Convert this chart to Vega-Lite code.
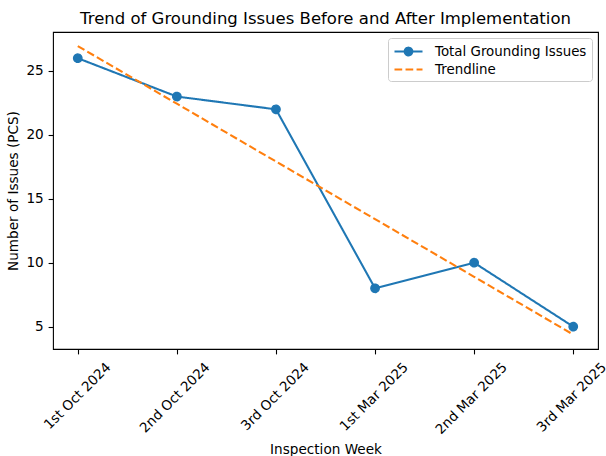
{
  "$schema": "https://vega.github.io/schema/vega-lite/v6.json",
  "width": 545,
  "height": 317,
  "autosize": {"type": "none"},
  "padding": {"left": 53, "top": 32, "right": 8, "bottom": 107},
  "background": "white",
  "config": {
    "font": "DejaVu Sans",
    "view": {"stroke": "black", "strokeWidth": 1.1},
    "axis": {
      "grid": false,
      "domain": false,
      "tickColor": "black",
      "tickWidth": 1.1,
      "tickSize": 4.9,
      "labelColor": "black",
      "labelFont": "DejaVu Sans",
      "labelFontSize": 13.6,
      "titleFont": "DejaVu Sans",
      "titleFontSize": 13.6,
      "titleFontWeight": "normal",
      "titleColor": "black"
    },
    "legend": {
      "title": null,
      "orient": "top-right",
      "offset": 6,
      "padding": 5,
      "fillColor": "rgba(255,255,255,0.8)",
      "strokeColor": "#cccccc",
      "cornerRadius": 3,
      "labelFont": "DejaVu Sans",
      "labelFontSize": 13.4,
      "labelColor": "black",
      "labelOffset": 25,
      "rowPadding": 1,
      "symbolType": "stroke",
      "symbolSize": 196,
      "symbolStrokeWidth": 2.08
    }
  },
  "title": {
    "text": "Trend of Grounding Issues Before and After Implementation",
    "font": "DejaVu Sans",
    "fontSize": 16.5,
    "fontWeight": "normal",
    "color": "black",
    "anchor": "middle",
    "frame": "group",
    "baseline": "bottom",
    "offset": 4.5,
    "dy": 16
  },
  "data": {
    "values": [
      {"week": "1st Oct 2024", "idx": 0, "series": "Total Grounding Issues", "value": 26},
      {"week": "2nd Oct 2024", "idx": 1, "series": "Total Grounding Issues", "value": 23},
      {"week": "3rd Oct 2024", "idx": 2, "series": "Total Grounding Issues", "value": 22},
      {"week": "1st Mar 2025", "idx": 3, "series": "Total Grounding Issues", "value": 8},
      {"week": "2nd Mar 2025", "idx": 4, "series": "Total Grounding Issues", "value": 10},
      {"week": "3rd Mar 2025", "idx": 5, "series": "Total Grounding Issues", "value": 5},
      {"week": "1st Oct 2024", "idx": 0, "series": "Trendline", "value": 26.95},
      {"week": "2nd Oct 2024", "idx": 1, "series": "Trendline", "value": 22.44},
      {"week": "3rd Oct 2024", "idx": 2, "series": "Trendline", "value": 17.92},
      {"week": "1st Mar 2025", "idx": 3, "series": "Trendline", "value": 13.41},
      {"week": "2nd Mar 2025", "idx": 4, "series": "Trendline", "value": 8.9},
      {"week": "3rd Mar 2025", "idx": 5, "series": "Trendline", "value": 4.38}
    ]
  },
  "encoding": {
    "x": {
      "field": "week",
      "type": "ordinal",
      "sort": ["1st Oct 2024", "2nd Oct 2024", "3rd Oct 2024", "1st Mar 2025", "2nd Mar 2025", "3rd Mar 2025"],
      "scale": {"type": "point", "padding": 0.25},
      "axis": {
        "title": "Inspection Week",
        "labelAngle": -45,
        "labelAlign": "right",
        "labelBaseline": "middle",
        "labelPadding": 10.8,
        "labelOffset": 30.5,
        "titlePadding": 6
      }
    },
    "y": {
      "field": "value",
      "type": "quantitative",
      "scale": {"domain": [3.25, 28.05], "nice": false, "zero": false},
      "axis": {
        "title": "Number of Issues (PCS)",
        "values": [5, 10, 15, 20, 25],
        "labelPadding": 4.9,
        "titlePadding": 5.6
      }
    },
    "color": {
      "field": "series",
      "type": "nominal",
      "scale": {"domain": ["Total Grounding Issues", "Trendline"], "range": ["#1f77b4", "#ff7f0e"]},
      "legend": {
        "encode": {
          "symbols": {
            "update": {
              "shape": {"signal": "datum.value === 'Total Grounding Issues' ? 'M-1,0H3M1.55,0A0.55,0.55,0,1,1,0.45,0A0.55,0.55,0,1,1,1.55,0Z' : 'M-1,0H3'"},
              "fill": {"signal": "datum.value === 'Total Grounding Issues' ? '#1f77b4' : 'transparent'"},
              "size": {"value": 196},
              "strokeWidth": {"value": 2.08}
            }
          }
        }
      }
    },
    "strokeDash": {
      "field": "series",
      "type": "nominal",
      "scale": {"domain": ["Total Grounding Issues", "Trendline"], "range": [[1, 0], [7.7, 3.33]]}
    }
  },
  "layer": [
    {
      "transform": [{"filter": "datum.series === 'Total Grounding Issues'"}],
      "mark": {"type": "line", "strokeWidth": 2.08},
      "encoding": {
        "order": {"field": "idx", "type": "quantitative"}
      }
    },
    {
      "transform": [{"filter": "datum.series === 'Total Grounding Issues'"}],
      "mark": {"type": "point", "filled": true, "opacity": 1, "size": 69.4, "stroke": "#1f77b4", "strokeWidth": 1.39},
      "encoding": {
        "strokeDash": {"value": [1, 0]}
      }
    },
    {
      "transform": [{"filter": "datum.series === 'Trendline'"}],
      "mark": {"type": "line", "strokeWidth": 2.08},
      "encoding": {
        "order": {"field": "idx", "type": "quantitative"}
      }
    }
  ]
}
